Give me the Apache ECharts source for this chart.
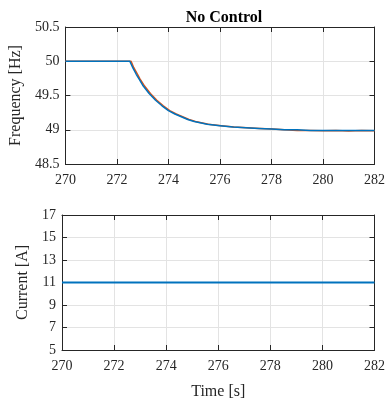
<!DOCTYPE html>
<html><head><meta charset="utf-8">
<script src="https://cdn.jsdelivr.net/npm/echarts@6/dist/echarts.min.js"></script>
<style>html,body{margin:0;padding:0;background:#fff}#c{width:388px;height:401px}</style>
</head><body><div id="c"></div>
<script>
const title = "No Control";
const xTicks = [270, 272, 274, 276, 278, 280, 282];
const freqTime = [270, 272.5, 272.625, 272.75, 272.875, 273, 273.25, 273.5, 273.75, 274, 274.25, 274.5, 274.75, 275, 275.5, 276, 276.5, 277, 277.5, 278, 278.5, 279, 279.5, 280, 280.5, 281, 281.5, 282];
const freqBlue = [50, 50, 49.90, 49.81, 49.73, 49.65, 49.53, 49.43, 49.35, 49.28, 49.23, 49.19, 49.15, 49.12, 49.08, 49.06, 49.04, 49.03, 49.02, 49.01, 49.00, 49.00, 48.99, 48.99, 48.99, 48.99, 48.99, 48.99];
const redTime = [270, 272.55, 272.65, 272.8, 272.9, 273.05, 273.3, 273.55, 273.8, 274.05, 274.3, 274.55, 274.8, 275.05, 275.55, 276.05, 276.55, 277.05, 277.55, 278.05, 278.5, 279, 279.5, 280, 280.5, 281, 281.5, 282];
const freqRed  = [50, 50, 49.91, 49.81, 49.74, 49.65, 49.53, 49.43, 49.35, 49.28, 49.23, 49.19, 49.15, 49.12, 49.08, 49.06, 49.04, 49.03, 49.02, 49.01, 49.00, 48.99, 48.99, 48.985, 48.99, 48.98, 48.99, 48.985];
const currTime = [270, 282];
const current = [11, 11];

const font = "Liberation Serif";
const txt = '#262626';
const pair = (xs, ys) => xs.map((x, i) => [x, ys[i]]);
const grids = [
  {left: 62, top: 27, width: 315, height: 137},
  {left: 62, top: 215, width: 315, height: 139}
];
function xAx(gi, show, name) {
  return [{
    gridIndex: gi, type: 'value', min: 270, max: 282, interval: 2, position: 'bottom',
    axisLine: {show: true, onZero: false, lineStyle: {color: '#262626', width: 1}},
    axisTick: {show: true, inside: true, length: 5, lineStyle: {color: '#262626'}},
    axisLabel: {show: show, color: txt, fontFamily: font, fontSize: 14, margin: 9},
    splitLine: {show: true, lineStyle: {color: '#e3e3e3', width: 1}},
    name: name || '', nameLocation: 'middle', nameGap: 34,
    nameTextStyle: {color: txt, fontFamily: font, fontSize: 16}
  }, {
    gridIndex: gi, type: 'value', min: 270, max: 282, interval: 2, position: 'top',
    axisLine: {show: true, onZero: false, lineStyle: {color: '#262626', width: 1}},
    axisTick: {show: true, inside: true, length: 5, lineStyle: {color: '#262626'}},
    axisLabel: {show: false}, splitLine: {show: false}
  }];
}
function yAx(gi, min, max, interval, name, gap) {
  return [{
    gridIndex: gi, type: 'value', min: min, max: max, interval: interval, position: 'left',
    axisLine: {show: true, onZero: false, lineStyle: {color: '#262626', width: 1}},
    axisTick: {show: true, inside: true, length: 5, lineStyle: {color: '#262626'}},
    axisLabel: {color: txt, fontFamily: font, fontSize: 14, margin: 6},
    splitLine: {show: true, lineStyle: {color: '#e3e3e3', width: 1}},
    name: name, nameLocation: 'middle', nameGap: gap,
    nameTextStyle: {color: txt, fontFamily: font, fontSize: 16}
  }, {
    gridIndex: gi, type: 'value', min: min, max: max, interval: interval, position: 'right',
    axisLine: {show: true, onZero: false, lineStyle: {color: '#262626', width: 1}},
    axisTick: {show: true, inside: true, length: 5, lineStyle: {color: '#262626'}},
    axisLabel: {show: false}, splitLine: {show: false}
  }];
}
const chart = echarts.init(document.getElementById('c'), null, {renderer: 'canvas'});
chart.setOption({
  animation: false,
  backgroundColor: '#fff',
  title: {text: title, left: 219, top: 5, textAlign: 'center',
    textStyle: {fontFamily: font, fontSize: 16, fontWeight: 'bold', color: '#000'}},
  grid: grids,
  xAxis: [...xAx(0, true), ...xAx(1, true, 'Time [s]')],
  yAxis: [...yAx(0, 48.5, 50.5, 0.5, 'Frequency [Hz]', 38), ...yAx(1, 5, 17, 2, 'Current [A]', 25)],
  series: [
    {type: 'line', xAxisIndex: 0, yAxisIndex: 0, data: pair(redTime, freqRed),
     showSymbol: false, lineStyle: {color: '#D95319', width: 1.5}},
    {type: 'line', xAxisIndex: 0, yAxisIndex: 0, data: pair(freqTime, freqBlue),
     showSymbol: false, lineStyle: {color: '#0072BD', width: 1.5}},
    {type: 'line', xAxisIndex: 2, yAxisIndex: 2, data: pair(currTime, current),
     showSymbol: false, lineStyle: {color: '#0072BD', width: 2}}
  ]
});
</script></body></html>
